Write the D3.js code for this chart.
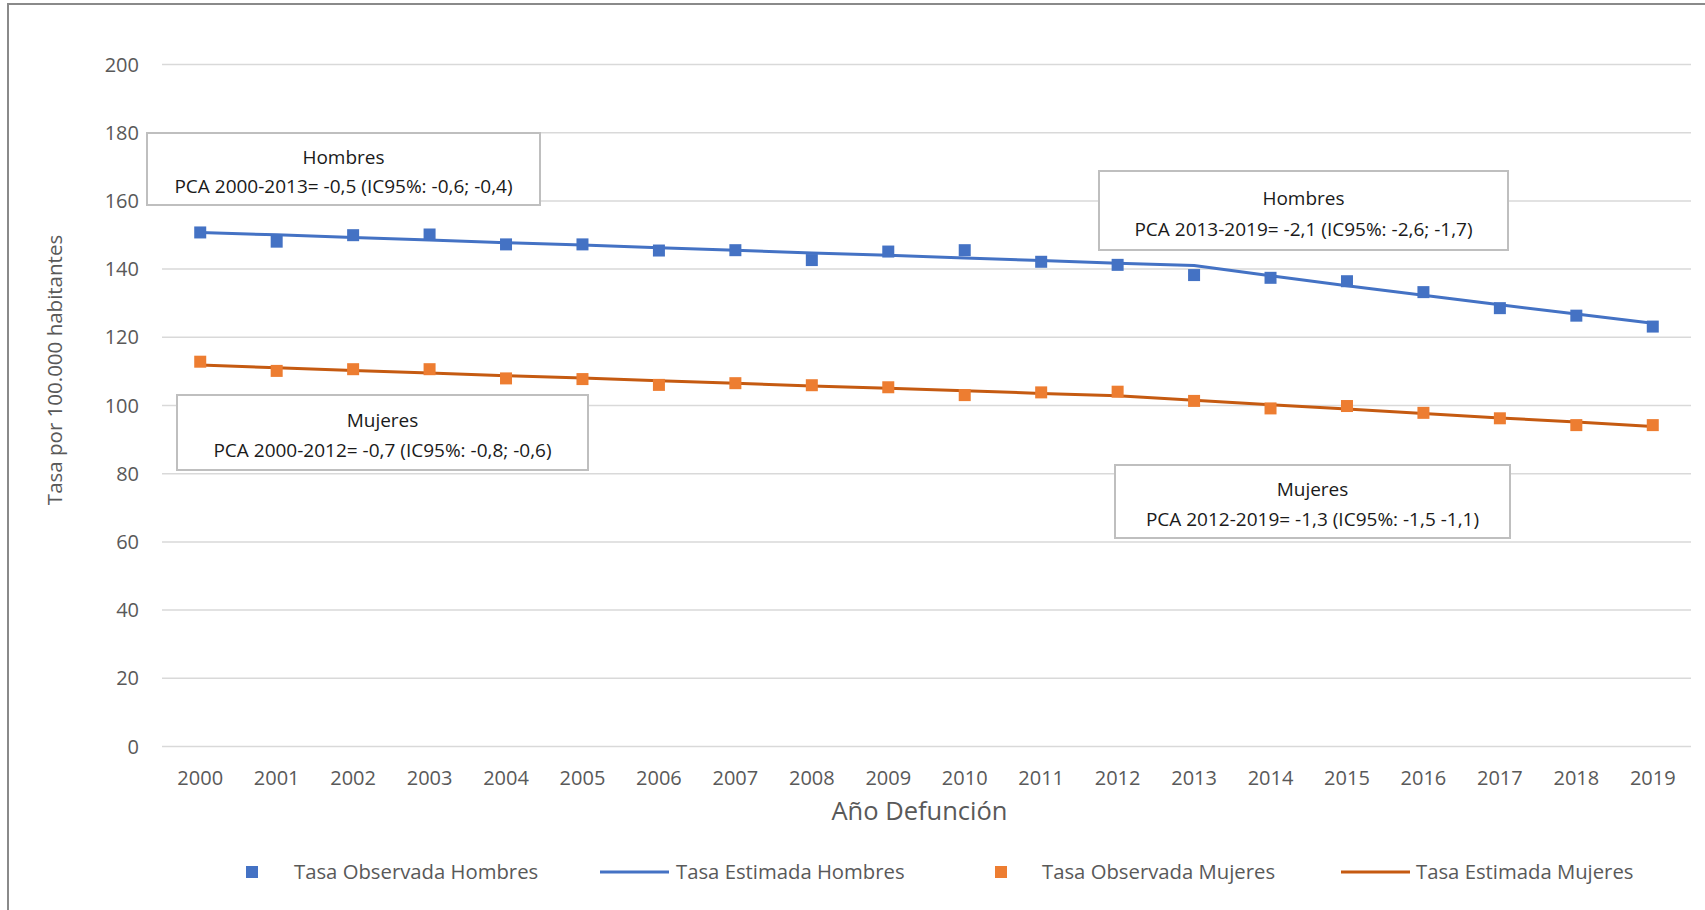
<!DOCTYPE html>
<html>
<head>
<meta charset="utf-8">
<script src="https://cdn.jsdelivr.net/npm/d3@7"></script>
<style>
  html, body { margin: 0; padding: 0; background: #fff; }
  svg { display: block; font-family: "Open Sans", "Noto Sans", sans-serif; }
</style>
</head>
<body>
<svg id="chart" width="1705" height="910"></svg>
<script>
// ---------------- data ----------------
const years = ["2000","2001","2002","2003","2004","2005","2006","2007","2008","2009",
               "2010","2011","2012","2013","2014","2015","2016","2017","2018","2019"];
const obsHombres = [150.6,147.9,149.8,150.0,147.1,147.1,145.3,145.4,142.5,145.0,
                    145.4,142.0,141.1,138.1,137.3,136.3,133.1,128.4,126.2,123.0];
const estHombres = [150.6,149.9,149.1,148.4,147.6,146.9,146.1,145.4,144.6,143.9,
                    143.1,142.4,141.6,140.9,137.9,135.0,132.2,129.4,126.7,124.0];
const obsMujeres = [112.7,110.0,110.5,110.5,107.8,107.6,105.9,106.4,105.8,105.2,
                    102.9,103.7,103.9,101.2,99.0,99.7,97.7,96.1,94.1,94.1];
const estMujeres = [111.7,110.9,110.1,109.4,108.6,107.9,107.1,106.4,105.6,104.9,
                    104.2,103.4,102.7,101.4,100.1,98.8,97.5,96.2,95.0,93.7];
const yTicks = [0,20,40,60,80,100,120,140,160,180,200];
const seriesNames = ["Tasa Observada Hombres","Tasa Estimada Hombres",
                     "Tasa Observada Mujeres","Tasa Estimada Mujeres"];
const annotTitles = ["Hombres","Hombres","Mujeres","Mujeres"];
const annotTexts = ["PCA 2000-2013= -0,5 (IC95%: -0,6; -0,4)",
                    "PCA 2013-2019= -2,1 (IC95%: -2,6; -1,7)",
                    "PCA 2000-2012= -0,7 (IC95%: -0,8; -0,6)",
                    "PCA 2012-2019= -1,3 (IC95%: -1,5 -1,1)"];
const xTitle = "Año Defunción";
const yTitle = "Tasa por 100.000 habitantes";

// ---------------- layout / style ----------------
const plot = {left: 162, right: 1691, top: 64, bottom: 746};
const annotBoxes = [
  {x: 147, y: 133, w: 393, h: 72},
  {x: 1099, y: 171, w: 409, h: 79},
  {x: 177, y: 395, w: 411, h: 75},
  {x: 1115, y: 465, w: 395, h: 73}
];
const legendLayout = [
  {sx: 252, tx: 294, type: "sq"},
  {sx: 600, tx: 676, type: "ln"},
  {sx: 1001, tx: 1042, type: "sq"},
  {sx: 1341, tx: 1416, type: "ln"}
];
const colBlue = "#4472C4", colOrange = "#ED7D31", colDarkOrange = "#C55A11";
const seriesColors = [colBlue, colBlue, colOrange, colDarkOrange];
const txtGray = "#595959";

const svg = d3.select("#chart");

// outer frame
svg.append("rect").attr("x", 8).attr("y", 4).attr("width", 1720).attr("height", 950)
  .attr("fill", "none").attr("stroke", "#8a8a8a").attr("stroke-width", 2);

const x = d3.scaleBand().domain(years).range([plot.left, plot.right]).padding(0);
const y = d3.scaleLinear().domain([0, 200]).range([plot.bottom, plot.top]);
const cx = d => x(d) + x.bandwidth() / 2;

// gridlines
const grid = svg.append("g").attr("transform", `translate(${plot.left},0)`)
  .call(d3.axisLeft(y).tickValues(yTicks).tickSize(-(plot.right - plot.left)).tickFormat(""));
grid.select(".domain").remove();
grid.selectAll("line").attr("stroke", "#D9D9D9").attr("stroke-width", 1.5);

// y axis labels
const yAxis = svg.append("g").attr("transform", `translate(${plot.left - 23},0)`)
  .call(d3.axisLeft(y).tickValues(yTicks).tickSize(0).tickPadding(0));
yAxis.select(".domain").remove();
yAxis.selectAll("text").attr("font-size", 20).attr("fill", txtGray)
  .attr("font-family", "Open Sans, sans-serif").attr("x", 0).attr("dy", "0.35em");

// x axis labels
const xAxis = svg.append("g").attr("transform", `translate(0,${plot.bottom})`)
  .call(d3.axisBottom(x).tickSize(0).tickPadding(0));
xAxis.select(".domain").remove();
xAxis.selectAll("text").attr("font-size", 20).attr("fill", txtGray)
  .attr("font-family", "Open Sans, sans-serif").attr("y", 32).attr("dy", "0.35em");

// axis titles
svg.append("text").attr("x", (plot.left + plot.right) / 2 - 7).attr("y", 811)
  .attr("dy", "0.35em").attr("text-anchor", "middle").attr("font-size", 25.5)
  .attr("fill", txtGray).text(xTitle);
svg.append("text").attr("transform", `translate(55,370) rotate(-90)`)
  .attr("dy", "0.35em").attr("text-anchor", "middle").attr("font-size", 20.5)
  .attr("fill", txtGray).text(yTitle);

// lines
const line = d3.line().x((d, i) => cx(years[i])).y(d => y(d));
[[estHombres, colBlue], [estMujeres, colDarkOrange]].forEach(([vals, c]) => {
  svg.append("path").datum(vals).attr("d", line).attr("fill", "none")
    .attr("stroke", c).attr("stroke-width", 3).attr("stroke-linejoin", "round");
});

// markers
const ms = 12;
[[obsHombres, colBlue], [obsMujeres, colOrange]].forEach(([vals, c]) => {
  svg.append("g").selectAll("rect").data(vals).join("rect")
    .attr("x", (d, i) => cx(years[i]) - ms / 2).attr("y", d => y(d) - ms / 2)
    .attr("width", ms).attr("height", ms).attr("fill", c);
});

// annotation boxes
annotBoxes.forEach((b, i) => {
  const g = svg.append("g");
  g.append("rect").attr("x", b.x).attr("y", b.y).attr("width", b.w).attr("height", b.h)
    .attr("fill", "#fff").attr("stroke", "#BFBFBF").attr("stroke-width", 2);
  g.append("text").attr("x", b.x + b.w / 2).attr("y", b.y + b.h * 0.34)
    .attr("dy", "0.35em").attr("text-anchor", "middle").attr("font-size", 19)
    .attr("fill", "#1a1a1a").text(annotTitles[i]);
  g.append("text").attr("x", b.x + b.w / 2).attr("y", b.y + b.h * 0.74)
    .attr("dy", "0.35em").attr("text-anchor", "middle").attr("font-size", 19)
    .attr("fill", "#1a1a1a").text(annotTexts[i]);
});

// legend
const ly = 872;
legendLayout.forEach((l, i) => {
  if (l.type === "sq") {
    svg.append("rect").attr("x", l.sx - 6).attr("y", ly - 6).attr("width", 12).attr("height", 12)
      .attr("fill", seriesColors[i]);
  } else {
    svg.append("line").attr("x1", l.sx).attr("x2", l.sx + 69).attr("y1", ly).attr("y2", ly)
      .attr("stroke", seriesColors[i]).attr("stroke-width", 3);
  }
  svg.append("text").attr("x", l.tx).attr("y", ly).attr("dy", "0.35em")
    .attr("font-size", 20.3).attr("fill", txtGray).text(seriesNames[i]);
});
</script>
</body>
</html>
